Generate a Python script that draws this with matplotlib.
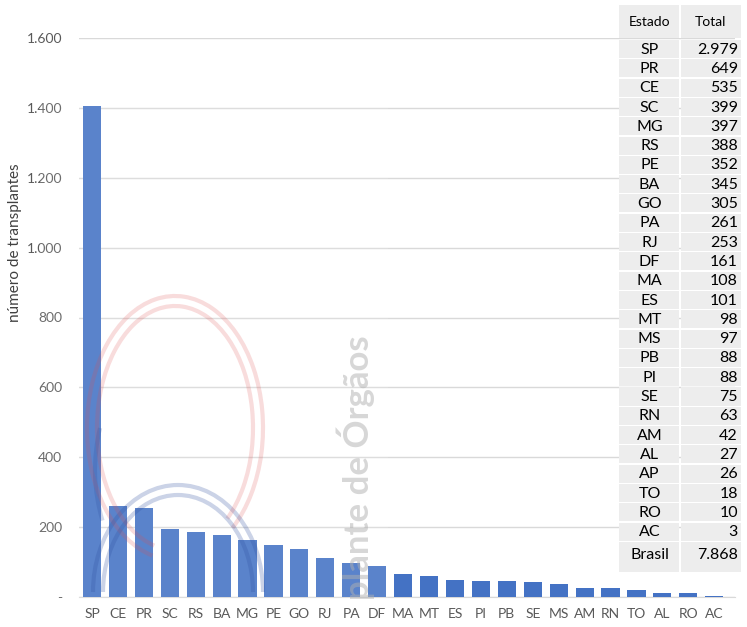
import matplotlib.pyplot as plt
from matplotlib.patches import Rectangle, Arc
from matplotlib.ticker import FuncFormatter

plt.rcParams['font.family'] = ['Lato', 'DejaVu Sans']

# barras
estados = ['SP', 'CE', 'PR', 'SC', 'RS', 'BA', 'MG', 'PE', 'GO', 'RJ', 'PA', 'DF', 'MA',
           'MT', 'ES', 'PI', 'PB', 'SE', 'MS', 'AM', 'RN', 'TO', 'AL', 'RO', 'AC']
transplantes = [1405, 261, 256, 194, 185, 177, 164, 150, 138, 112, 98, 89, 67,
                60, 48, 45, 45, 42, 37, 26, 26, 19, 11, 11, 2]

# tabela da direita
tab_estados = ['SP', 'PR', 'CE', 'SC', 'MG', 'RS', 'PE', 'BA', 'GO', 'PA', 'RJ', 'DF', 'MA',
               'ES', 'MT', 'MS', 'PB', 'PI', 'SE', 'RN', 'AM', 'AL', 'AP', 'TO', 'RO', 'AC']
tab_totais = [2979, 649, 535, 399, 397, 388, 352, 345, 305, 261, 253, 161, 108,
              101, 98, 97, 88, 88, 75, 63, 42, 27, 26, 18, 10, 3]
total_brasil = 7868

W, H = 747, 627


def milhar(v):
    return '{:,}'.format(int(v)).replace(',', '.')


fig = plt.figure(figsize=(W / 100, H / 100), dpi=100)
ax = fig.add_axes([79 / W, 1 - 597 / H, (735 - 79) / W, (597 - 38) / H])

x = list(range(len(estados)))
ax.bar(x, transplantes, width=0.7, color='#4472c4', zorder=3)
ax.set_xlim(-0.5, len(estados) - 0.2)
ax.set_ylim(0, 1600)
ax.set_yticks(range(0, 1601, 200))
ax.yaxis.set_major_formatter(FuncFormatter(lambda v, p: '-' if v == 0 else milhar(v)))
ax.set_xticks(x)
ax.set_xticklabels(estados)
ax.tick_params(length=0, labelsize=10, colors='#595959', pad=8)
ax.tick_params(axis='y', pad=12)
ax.grid(axis='y', color='#d9d9d9', linewidth=1, zorder=0)
for s in ['top', 'right', 'left']:
    ax.spines[s].set_visible(False)
ax.spines['bottom'].set_color('#d9d9d9')

fig.text(15 / W, 1 - 243 / H, 'número de transplantes', rotation=90,
         ha='center', va='center', fontsize=11, color='#404040')

# camada de cima: marca d'agua e tabela, em pixels (y para baixo)
ov = fig.add_axes([0, 0, 1, 1], zorder=5)
ov.set_xlim(0, W)
ov.set_ylim(H, 0)
ov.axis('off')
ov.patch.set_alpha(0)

ov.add_patch(Rectangle((40, 70), 348, 530, facecolor='white', alpha=0.12, lw=0))
for r in [0, 10]:
    ov.add_patch(Arc((175, 428), 176 - 2 * r, 264 - 2 * r, theta1=100, theta2=420,
                     color='#e05050', alpha=0.2, lw=3))
    ov.add_patch(Arc((178, 592), 170 - 2 * r, 214 - 2 * r, theta1=180, theta2=360,
                     color='#3050a0', alpha=0.25, lw=3))
ov.add_patch(Arc((190, 470), 190, 260, theta1=150, theta2=205,
                 color='#3050a0', alpha=0.22, lw=3))
ov.text(356, 600, 'plante de Órgãos', rotation=90, ha='center', va='bottom',
        fontsize=25, fontweight='bold', color='#b0b0b0', alpha=0.5)

# tabela
tx0, tx1, tx2 = 619, 680, 741
cinza = '#ededed'
ov.add_patch(Rectangle((tx0, 5), tx1 - tx0 - 1, 33, facecolor=cinza, lw=0))
ov.add_patch(Rectangle((tx1 + 1, 5), tx2 - tx1 - 1, 33, facecolor=cinza, lw=0))
ov.text((tx0 + tx1) / 2, 22, 'Estado', ha='center', va='center', fontsize=10)
ov.text((tx1 + tx2) / 2, 22, 'Total', ha='center', va='center', fontsize=10)
y0, dy = 40, 19.3
for i, (e, t) in enumerate(zip(tab_estados, tab_totais)):
    yt = y0 + i * dy
    ov.add_patch(Rectangle((tx0, yt), tx1 - tx0 - 1, dy - 1.2, facecolor=cinza, lw=0))
    ov.add_patch(Rectangle((tx1 + 1, yt), tx2 - tx1 - 1, dy - 1.2, facecolor=cinza, lw=0))
    ov.text((tx0 + tx1) / 2, yt + dy / 2, e, ha='center', va='center', fontsize=11.5)
    ov.text(tx2 - 3, yt + dy / 2, milhar(t), ha='right', va='center', fontsize=11.5)
yb = y0 + len(tab_estados) * dy
ov.add_patch(Rectangle((tx0, yb), tx1 - tx0 - 1, 30, facecolor=cinza, lw=0))
ov.add_patch(Rectangle((tx1 + 1, yb), tx2 - tx1 - 1, 30, facecolor=cinza, lw=0))
ov.text((tx0 + tx1) / 2, yb + 13, 'Brasil', ha='center', va='center', fontsize=11.5)
ov.text(tx2 - 3, yb + 13, milhar(total_brasil), ha='right', va='center', fontsize=11.5)

fig.savefig('out.png', dpi=100)
